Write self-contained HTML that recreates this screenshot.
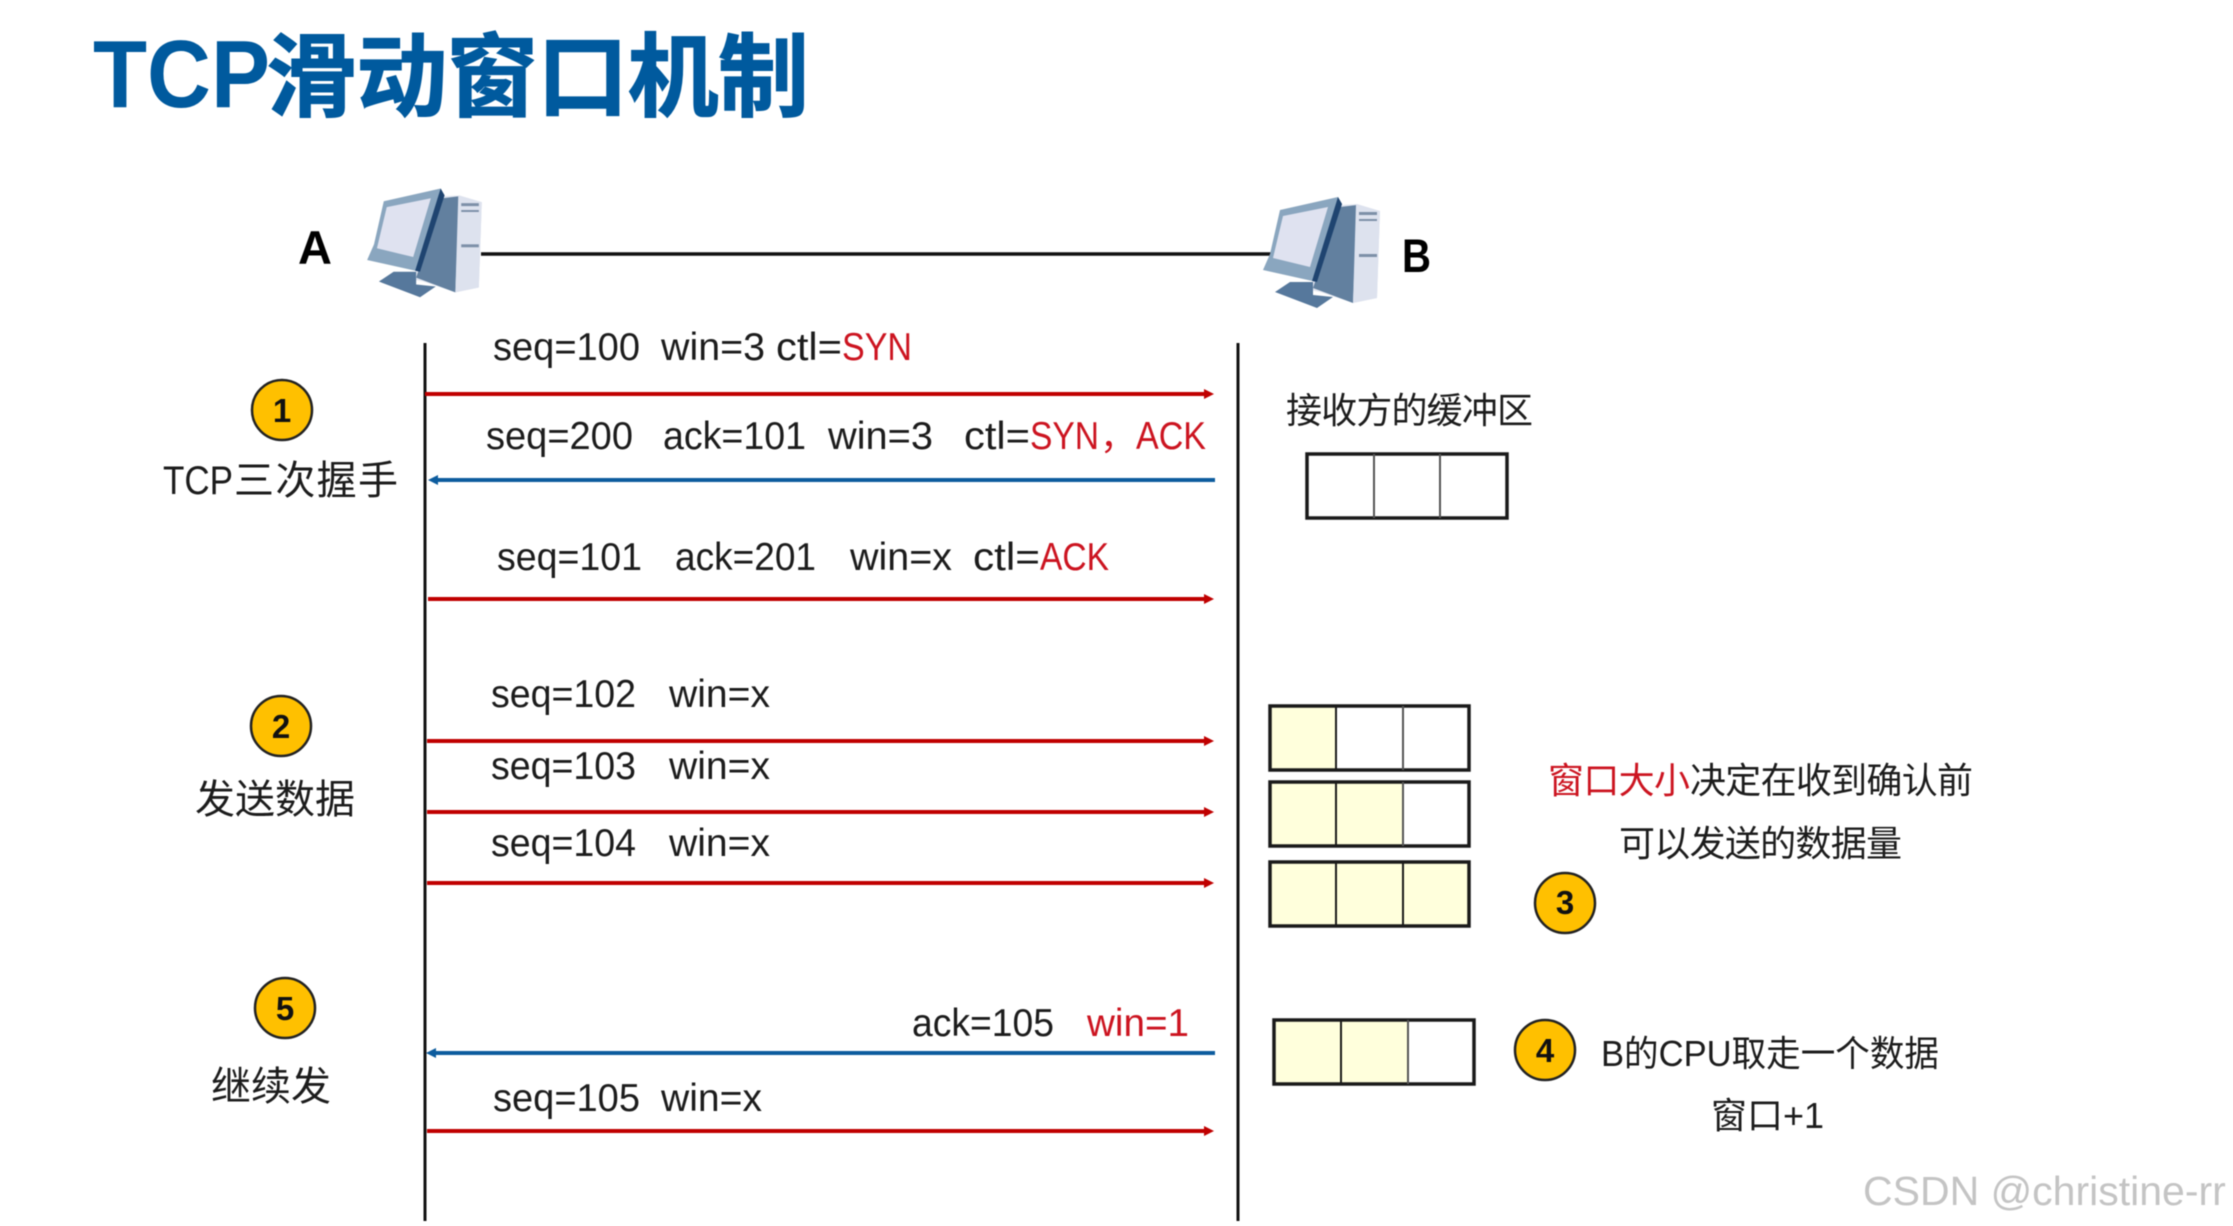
<!DOCTYPE html>
<html><head><meta charset="utf-8"><style>
html,body{margin:0;padding:0;background:#fff}
svg{display:block;filter:blur(.6px)}
text{font-family:"Liberation Sans","Noto Sans CJK SC",sans-serif;fill:#1c1c1c}
.t{font-size:39px}
.c{font-size:36px}
.k{font-size:40px}
.r{fill:#cc1420}
.n{font-size:33px;font-weight:bold;text-anchor:middle;fill:#111}
</style></head><body>
<svg xmlns="http://www.w3.org/2000/svg" width="2233" height="1226" viewBox="0 0 2233 1226">
<defs>
<g id="pc">
<polygon points="120,35 137,34 160,41 157,128 133,133 100,122 90,120" fill="#e2e6f0"/>
<polygon points="120,37 137,35 133,133 93,118" fill="#62809f"/>
<polygon points="136,34 160,41 157,128 133,133" fill="#dde2ee"/>
<rect x="139" y="42" width="18" height="3" fill="#7d90a8"/><rect x="139" y="49" width="18" height="2" fill="#7d90a8"/>
<rect x="139" y="84" width="18" height="3" fill="#7d90a8"/>
<polygon points="70,112 93,112 93,125 113,127 97,138 55,122" fill="#56789c"/>
<polygon points="60,40 118,27 122,34 97,112 43,100 50,84" fill="#8aa6bf"/>
<polygon points="118,27 122,34 97,112 92,111" fill="#1f4470"/>
<polygon points="63,46 108,37 90,97 53,88" fill="#dfe2f0"/>
</g>
</defs>
<rect width="2233" height="1226" fill="#fff"/>

<!-- title -->
<text x="93" y="107" font-size="96" font-weight="bold" textLength="177" lengthAdjust="spacingAndGlyphs" style="fill:#005a9e">TCP</text>
<text x="266" y="109" font-size="91" font-weight="bold" textLength="543" lengthAdjust="spacing" style="fill:#005a9e;stroke:#005a9e;stroke-width:1.2px">滑动窗口机制</text>

<!-- hosts -->
<text x="298" y="264" font-size="47" font-weight="bold" style="fill:#000">A</text>
<text x="1402" y="272" font-size="47" font-weight="bold" textLength="29" lengthAdjust="spacingAndGlyphs" style="fill:#000">B</text>
<line x1="481" y1="254" x2="1272" y2="254" stroke="#111" stroke-width="3.5"/>
<use href="#pc" transform="translate(325,162) scale(.98)"/>
<use href="#pc" transform="translate(1220,170)"/>

<!-- lifelines -->
<line x1="425" y1="343" x2="425" y2="1221" stroke="#111" stroke-width="3"/>
<line x1="1238" y1="343" x2="1238" y2="1221" stroke="#111" stroke-width="3"/>

<!-- arrows -->
<g stroke-width="4" fill="none">
<line x1="425" y1="394" x2="1208" y2="394" stroke="#c00000"/>
<line x1="434" y1="480" x2="1215" y2="480" stroke="#0d5c9e"/>
<line x1="428" y1="599" x2="1208" y2="599" stroke="#c00000"/>
<line x1="427" y1="741" x2="1208" y2="741" stroke="#c00000"/>
<line x1="427" y1="812" x2="1208" y2="812" stroke="#c00000"/>
<line x1="427" y1="883" x2="1208" y2="883" stroke="#c00000"/>
<line x1="434" y1="1053" x2="1215" y2="1053" stroke="#0d5c9e"/>
<line x1="427" y1="1131" x2="1208" y2="1131" stroke="#c00000"/>
</g>
<g fill="#c00000">
<polygon points="1204,389 1214,394 1204,399"/>
<polygon points="1204,594 1214,599 1204,604"/>
<polygon points="1204,736 1214,741 1204,746"/>
<polygon points="1204,807 1214,812 1204,817"/>
<polygon points="1204,878 1214,883 1204,888"/>
<polygon points="1204,1126 1214,1131 1204,1136"/>
</g>
<g fill="#0d5c9e">
<polygon points="438,475 428,480 438,485"/>
<polygon points="436,1048 426,1053 436,1058"/>
</g>

<!-- message labels -->
<g transform="translate(-1,-1)">
<text class="t" x="494" y="361" textLength="147" lengthAdjust="spacingAndGlyphs">seq=100</text>
<text class="t" x="662" y="361" textLength="104" lengthAdjust="spacingAndGlyphs">win=3</text>
<text class="t" x="777" y="361" textLength="66" lengthAdjust="spacingAndGlyphs">ctl=</text>
<text class="t r" x="843" y="361" textLength="70" lengthAdjust="spacingAndGlyphs">SYN</text>

<text class="t" x="487" y="450" textLength="147" lengthAdjust="spacingAndGlyphs">seq=200</text>
<text class="t" x="664" y="450" textLength="143" lengthAdjust="spacingAndGlyphs">ack=101</text>
<text class="t" x="829" y="450" textLength="105" lengthAdjust="spacingAndGlyphs">win=3</text>
<text class="t" x="965" y="450" textLength="66" lengthAdjust="spacingAndGlyphs">ctl=</text>
<text class="t r" x="1031" y="450" textLength="69" lengthAdjust="spacingAndGlyphs">SYN</text>
<text class="c r" x="1101" y="450">，</text>
<text class="t r" x="1137" y="450" textLength="70" lengthAdjust="spacingAndGlyphs">ACK</text>

<text class="t" x="498" y="571" textLength="145" lengthAdjust="spacingAndGlyphs">seq=101</text>
<text class="t" x="676" y="571" textLength="141" lengthAdjust="spacingAndGlyphs">ack=201</text>
<text class="t" x="851" y="571" textLength="102" lengthAdjust="spacingAndGlyphs">win=x</text>
<text class="t" x="974" y="571" textLength="67" lengthAdjust="spacingAndGlyphs">ctl=</text>
<text class="t r" x="1041" y="571" textLength="69" lengthAdjust="spacingAndGlyphs">ACK</text>

<text class="t" x="492" y="708" textLength="145" lengthAdjust="spacingAndGlyphs">seq=102</text>
<text class="t" x="670" y="708" textLength="101" lengthAdjust="spacingAndGlyphs">win=x</text>
<text class="t" x="492" y="780" textLength="145" lengthAdjust="spacingAndGlyphs">seq=103</text>
<text class="t" x="670" y="780" textLength="101" lengthAdjust="spacingAndGlyphs">win=x</text>
<text class="t" x="492" y="857" textLength="145" lengthAdjust="spacingAndGlyphs">seq=104</text>
<text class="t" x="670" y="857" textLength="101" lengthAdjust="spacingAndGlyphs">win=x</text>

<text class="t" x="913" y="1037" textLength="142" lengthAdjust="spacingAndGlyphs">ack=105</text>
<text class="t r" x="1088" y="1037" textLength="102" lengthAdjust="spacingAndGlyphs">win=1</text>
<text class="t" x="494" y="1112" textLength="147" lengthAdjust="spacingAndGlyphs">seq=105</text>
<text class="t" x="662" y="1112" textLength="101" lengthAdjust="spacingAndGlyphs">win=x</text>
</g>

<!-- left labels -->
<g fill="#ffc000" stroke="#222" stroke-width="2.5">
<circle cx="282" cy="410" r="30"/>
<circle cx="281" cy="726" r="30"/>
<circle cx="285" cy="1008" r="30"/>
<circle cx="1565" cy="903" r="30"/>
<circle cx="1545" cy="1050" r="30"/>
</g>
<text class="n" x="282" y="422">1</text>
<text class="n" x="281" y="738">2</text>
<text class="n" x="285" y="1020">5</text>
<text class="n" x="1565" y="914">3</text>
<text class="n" x="1545" y="1062">4</text>

<text class="k" x="163" y="494" textLength="70" lengthAdjust="spacingAndGlyphs">TCP</text>
<text class="k" x="234" y="494" textLength="164" lengthAdjust="spacing">三次握手</text>
<text class="k" x="195" y="813">发送数据</text>
<text class="k" x="211" y="1100">继续发</text>

<!-- buffers -->
<text class="c" x="1286" y="423" textLength="247" lengthAdjust="spacing">接收方的缓冲区</text>
<g stroke="#1a1a1a" stroke-width="2">
<rect x="1307" y="454" width="200" height="64" fill="#fff" stroke-width="3.5"/>
<line x1="1374" y1="454" x2="1374" y2="518" stroke="#555"/><line x1="1440" y1="454" x2="1440" y2="518" stroke="#555"/>

<rect x="1270" y="706" width="66" height="64" fill="#ffffdc" stroke="none"/>
<rect x="1270" y="706" width="199" height="64" fill="none" stroke-width="3.5"/>
<line x1="1336" y1="706" x2="1336" y2="770"/><line x1="1403" y1="706" x2="1403" y2="770" stroke="#555"/>

<rect x="1270" y="782" width="133" height="64" fill="#ffffdc" stroke="none"/>
<rect x="1270" y="782" width="199" height="64" fill="none" stroke-width="3.5"/>
<line x1="1336" y1="782" x2="1336" y2="846"/><line x1="1403" y1="782" x2="1403" y2="846" stroke="#555"/>

<rect x="1270" y="862" width="199" height="64" fill="#ffffdc" stroke-width="3.5"/>
<line x1="1336" y1="862" x2="1336" y2="926"/><line x1="1403" y1="862" x2="1403" y2="926"/>

<rect x="1274" y="1020" width="134" height="64" fill="#ffffdc" stroke="none"/>
<rect x="1274" y="1020" width="200" height="64" fill="none" stroke-width="3.5"/>
<line x1="1341" y1="1020" x2="1341" y2="1084"/><line x1="1408" y1="1020" x2="1408" y2="1084" stroke="#555"/>
</g>

<!-- right notes -->
<text class="c r" x="1548" y="793" textLength="142" lengthAdjust="spacing">窗口大小</text>
<text class="c" x="1690" y="793" textLength="283" lengthAdjust="spacing">决定在收到确认前</text>
<text class="c" x="1619" y="856" textLength="283" lengthAdjust="spacing">可以发送的数据量</text>
<text class="c" x="1601" y="1066" textLength="338" lengthAdjust="spacingAndGlyphs">B的CPU取走一个数据</text>
<text class="c" x="1711" y="1128" textLength="113" lengthAdjust="spacingAndGlyphs">窗口+1</text>

<!-- watermark -->
<text x="1863" y="1205" font-size="41" style="fill:#c4c4c4">CSDN @christine-rr</text>
</svg>
</body></html>
